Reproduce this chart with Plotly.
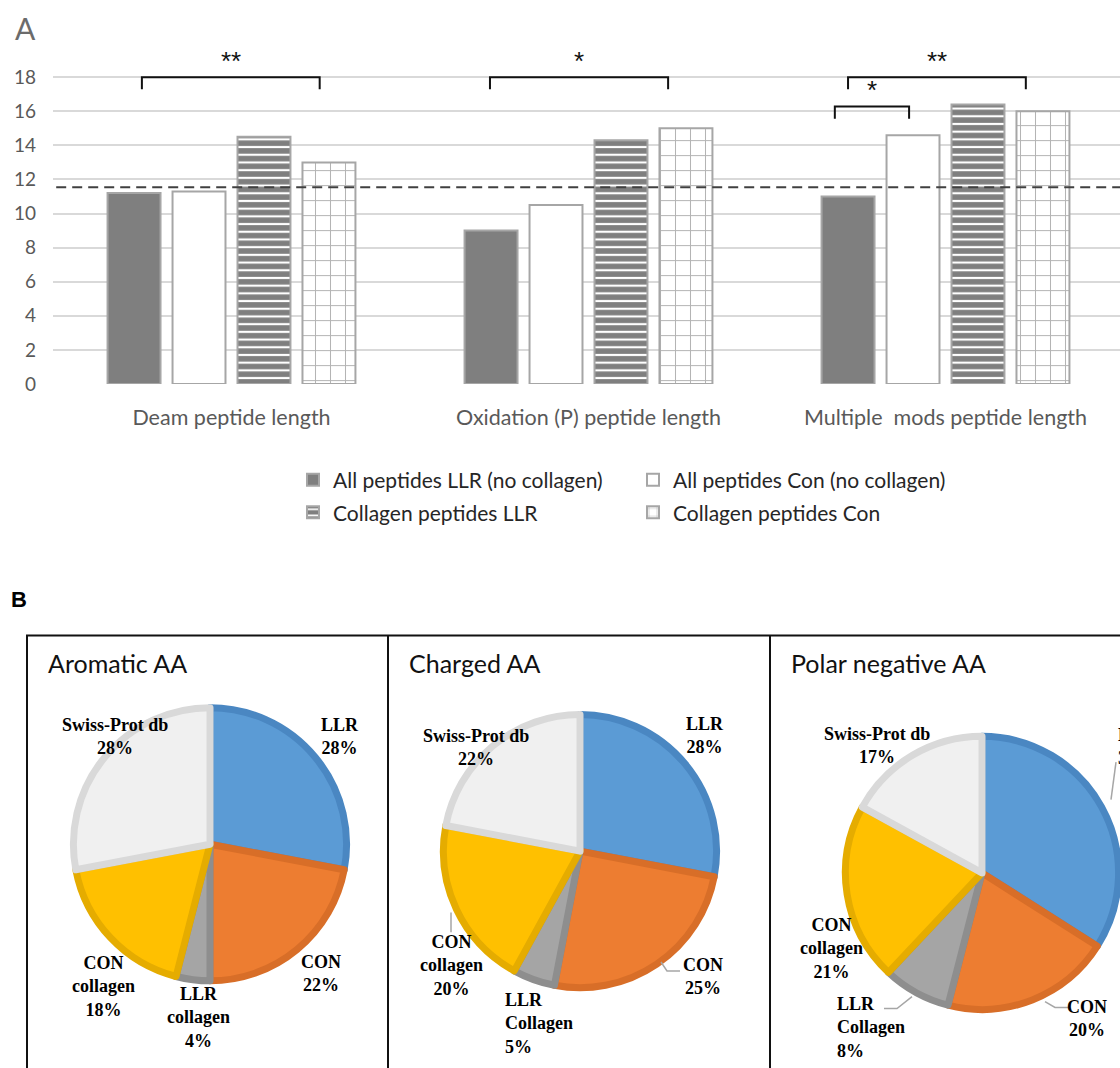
import plotly.graph_objects as go

# ---------------- Panel A: mean peptide length ----------------
categories = ["Deam peptide length", "Oxidation (P) peptide length",
              "Multiple\u00a0 mods peptide length"]
llr_all = [11.2, 9.0, 11.0]          # All peptides LLR (no collagen)
con_all = [11.3, 10.5, 14.6]         # All peptides Con (no collagen)
llr_collagen = [14.5, 14.3, 16.4]    # Collagen peptides LLR
con_collagen = [13.0, 15.0, 16.0]    # Collagen peptides Con
overall_mean_length = 11.55
y_ticks = [0, 2, 4, 6, 8, 10, 12, 14, 16, 18]

# significance brackets: (category, left offset, right offset, bottom, top, stars)
brackets = [
    (0, -0.251, 0.247, 17.3, 18.0, "**"),
    (1, -0.276, 0.223, 17.3, 18.0, "*"),
    (2, -0.273, 0.225, 17.3, 18.0, "**"),
    (2, -0.310, -0.102, 15.56, 16.28, "*"),
]

# ---------------- Panel B: amino-acid composition ----------------
slice_names = ["LLR", "CON", "LLR collagen", "CON collagen", "Swiss-Prot db"]
aromatic = [28, 22, 4, 18, 28]
charged = [28, 25, 5, 20, 22]
polar_negative = [34, 20, 8, 21, 17]
panel_titles = ["Aromatic AA", "Charged AA", "Polar negative AA"]

W, H = 1120, 1068


def fx(px):
    return px / W


def fy(py):
    return 1 - py / H


fig = go.Figure()

bar_line = dict(color="#a6a6a6", width=2)
fig.add_trace(go.Bar(x=[0, 1, 2], y=llr_all, name="All peptides LLR (no collagen)",
                     marker=dict(color="#7f7f7f", line=bar_line), legend="legend"))
fig.add_trace(go.Bar(x=[0, 1, 2], y=con_all, name="All peptides Con (no collagen)",
                     marker=dict(color="#ffffff", line=bar_line), legend="legend2"))
fig.add_trace(go.Bar(x=[0, 1, 2], y=llr_collagen, name="Collagen peptides LLR",
                     marker=dict(color="#7f7f7f", line=bar_line,
                                 pattern=dict(shape="-", fgcolor="#ffffff", bgcolor="#7f7f7f",
                                              size=7.7, solidity=0.28, fillmode="replace")),
                     legend="legend3"))
fig.add_trace(go.Bar(x=[0, 1, 2], y=con_collagen, name="Collagen peptides Con",
                     marker=dict(color="#ffffff", line=bar_line,
                                 pattern=dict(shape="+", fgcolor="#b4b4b4", bgcolor="#ffffff",
                                              size=15, solidity=0.13, fillmode="replace")),
                     legend="legend4"))

shapes = []
annotations = []

# dashed overall-mean line
shapes.append(dict(type="line", xref="x domain", yref="y", x0=0.003, x1=1,
                   y0=overall_mean_length, y1=overall_mean_length,
                   line=dict(color="#404040", width=2, dash="10px,6px"), layer="above"))

# significance brackets and stars
for cat, left, right, bottom, top, stars in brackets:
    x0, x1 = cat + left, cat + right
    shapes.append(dict(type="path", xref="x", yref="y",
                       path=f"M {x0},{bottom} L {x0},{top} L {x1},{top} L {x1},{bottom}",
                       line=dict(color="#111111", width=2)))
    annotations.append(dict(x=(x0 + x1) / 2, y=top + 0.95, xref="x", yref="y",
                            text=stars, showarrow=False, yanchor="middle",
                            font=dict(family="Liberation Sans", size=26, color="#111111")))

# panel letters
annotations.append(dict(x=fx(13), y=fy(28), xref="paper", yref="paper", text="A",
                        showarrow=False, xanchor="left", yanchor="middle",
                        font=dict(family="Lato", size=30, color="#6b6b6b")))
annotations.append(dict(x=fx(9), y=fy(606), xref="paper", yref="paper", text="<b>B</b>",
                        showarrow=False, xanchor="left", yanchor="middle",
                        font=dict(family="Liberation Sans", size=22, color="#000000")))

# ---------------- pies ----------------
fill_colors = ["#5b9bd5", "#ed7d31", "#a5a5a5", "#ffc000", "#f0f0f0"]
edge_colors = ["#4a87c2", "#d86e28", "#8e8e8e", "#e5ac00", "#d9d9d9"]

pie_centres = [(210, 853), (580, 860), (982, 882)]
pie_radius = 138
for values, (cx, cy) in zip([aromatic, charged, polar_negative], pie_centres):
    fig.add_trace(go.Pie(values=values, labels=slice_names, sort=False,
                         direction="clockwise", rotation=0, textinfo="none",
                         showlegend=False,
                         marker=dict(colors=fill_colors,
                                     line=dict(color=edge_colors, width=7)),
                         domain=dict(x=[fx(cx - pie_radius), min(1.0, fx(cx + pie_radius))],
                                     y=[fy(cy + pie_radius), fy(cy - pie_radius)])))

# panel frames
frame = dict(color="#111111", width=2)
shapes.append(dict(type="rect", xref="paper", yref="paper", x0=fx(27), x1=1.02,
                   y0=-0.05, y1=fy(642), line=frame))
for xdiv in (388, 770):
    shapes.append(dict(type="line", xref="paper", yref="paper", x0=fx(xdiv), x1=fx(xdiv),
                       y0=-0.05, y1=fy(642), line=frame))

for title, xleft in zip(panel_titles, (46, 407, 789)):
    annotations.append(dict(x=fx(xleft), y=fy(670), xref="paper", yref="paper", text=title,
                            showarrow=False, xanchor="left", yanchor="middle",
                            font=dict(family="Lato", size=25, color="#111111")))

# slice labels: display names per panel and their placement (x, y, anchor)
label_names = [
    ["LLR", "CON", "LLR<br>collagen", "CON<br>collagen", "Swiss-Prot db"],
    ["LLR", "CON", "LLR<br>Collagen", "CON<br>collagen", "Swiss-Prot db"],
    ["LLR", "CON", "LLR<br>Collagen", "CON<br>collagen", "Swiss-Prot db"],
]
label_places = [
    [(340, 744, "center"), (321, 984, "center"), (198, 1028, "center"),
     (103, 997, "center"), (115, 744, "center")],
    [(705, 743, "center"), (703, 987, "center"), (503, 1034, "left"),
     (451, 976, "center"), (476, 755, "center")],
    [(1116, 754, "left"), (1087, 1029, "center"), (835, 1038, "left"),
     (831, 958, "center"), (877, 753, "center")],
]
for values, names, places in zip([aromatic, charged, polar_negative], label_names, label_places):
    for v, name, (lx, ly, anchor) in zip(values, names, places):
        annotations.append(dict(x=fx(lx), y=fy(ly), xref="paper", yref="paper",
                                text=f"<b>{name}<br>{v}%</b>", showarrow=False,
                                xanchor=anchor, yanchor="middle", align=anchor,
                                font=dict(family="Liberation Serif", size=18, color="#000000")))

# leader lines
leaders = [
    [(661, 972), (667, 981), (680, 981)],
    [(451, 922), (451, 942)],
    [(1116, 770), (1111, 808)],
    [(1045, 1012), (1055, 1018), (1068, 1018)],
    [(884, 1019), (897, 1019), (912, 1007)],
]
for pts in leaders:
    path = "M " + " L ".join(f"{fx(px)},{fy(py)}" for px, py in pts)
    shapes.append(dict(type="path", xref="paper", yref="paper", path=path,
                       line=dict(color="#a6a6a6", width=1.5)))

# legend entries, one box each: (legend id, left px, row centre px)
legend_boxes = [("legend", 293, 485), ("legend2", 633, 485),
                ("legend3", 293, 518), ("legend4", 633, 518)]
legend_layout = {}
for lid, lx, ly in legend_boxes:
    legend_layout[lid] = dict(x=fx(lx), y=fy(ly), xanchor="left", yanchor="middle",
                              orientation="h", itemwidth=30, bgcolor="rgba(0,0,0,0)",
                              font=dict(family="Lato", size=21, color="#262626"))

px_per_unit = (388 - 78) / 18.0
cat_px = 357.0
fig.update_layout(
    width=W, height=H, autosize=False,
    margin=dict(l=0, r=0, t=0, b=0),
    paper_bgcolor="#ffffff", plot_bgcolor="#ffffff",
    barmode="group", bargap=0.272, bargroupgap=0.185,
    shapes=shapes, annotations=annotations,
    xaxis=dict(domain=[fx(53), 1], range=[-0.5, -0.5 + (W - 53) / cat_px],
               tickvals=[0, 1, 2], ticktext=categories, showgrid=False,
               showline=False, zeroline=False, ticks="", ticklabelstandoff=18,
               tickfont=dict(family="Lato", size=21.5, color="#595959")),
    yaxis=dict(domain=[fy(388), fy(388 - 20 * px_per_unit)], range=[0, 20],
               tickvals=y_ticks, showgrid=True, gridcolor="#d9d9d9", gridwidth=2,
               zeroline=False, showline=False, ticks="", ticklabelstandoff=16,
               tickfont=dict(family="Lato", size=19, color="#595959")),
    **legend_layout,
)

fig.write_html("out.html")
